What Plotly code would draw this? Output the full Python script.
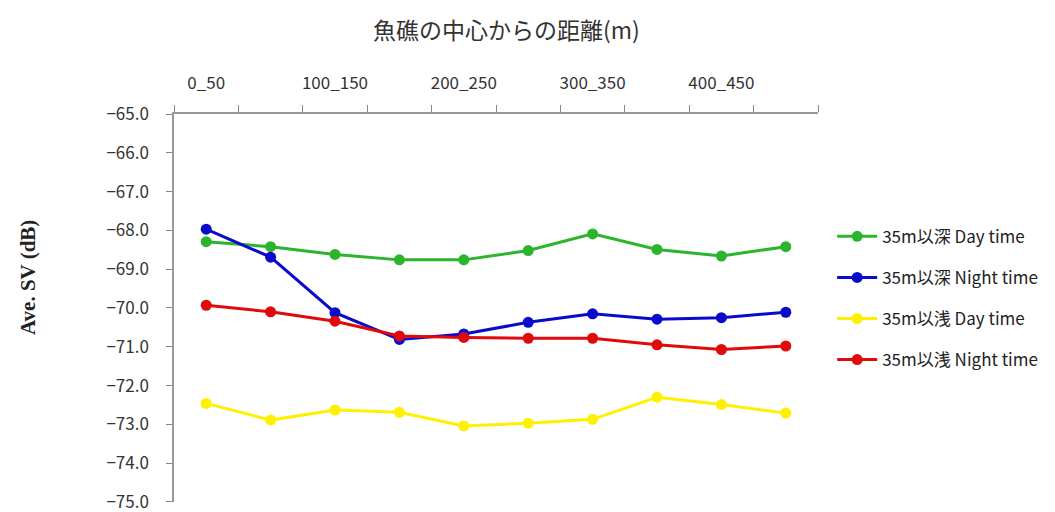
import plotly.graph_objects as go

categories = ["0_50", "50_100", "100_150", "150_200", "200_250",
              "250_300", "300_350", "350_400", "400_450", "450_500"]
tick_labels = ["0_50", "", "100_150", "", "200_250", "", "300_350", "", "400_450", ""]

deep_day = [-68.29, -68.42, -68.62, -68.76, -68.76, -68.52, -68.09, -68.49, -68.66, -68.42]
deep_night = [-67.97, -68.69, -70.12, -70.81, -70.67, -70.37, -70.15, -70.29, -70.25, -70.11]
shallow_day = [-72.46, -72.89, -72.63, -72.69, -73.04, -72.97, -72.87, -72.30, -72.49, -72.71]
shallow_night = [-69.93, -70.10, -70.34, -70.72, -70.76, -70.78, -70.78, -70.95, -71.07, -70.98]

series_names = ["35m以深 Day time", "35m以深 Night time", "35m以浅 Day time", "35m以浅 Night time"]
series_values = [deep_day, deep_night, shallow_day, shallow_night]
colors = ["#2DB42D", "#0A0ACD", "#FFF000", "#E00A0A"]

fig = go.Figure()
for i, (name, vals, col) in enumerate(zip(series_names, series_values, colors)):
    fig.add_trace(go.Scatter(
        x=categories, y=vals, name=name, mode="lines+markers",
        line=dict(color=col, width=3),
        marker=dict(color=col, size=11),
        legendgroup=f"g{i}",
    ))

fig.update_layout(
    width=1055, height=512,
    margin=dict(l=174, r=237, t=114, b=10, autoexpand=False),
    paper_bgcolor="white", plot_bgcolor="white",
    font=dict(family="Noto Sans CJK JP", color="#333333"),
    title=dict(text="魚礁の中心からの距離(m)", x=0.48, xanchor="center", y=0.94, yanchor="middle",
               font=dict(size=23, family="Noto Sans CJK JP", color="#333333")),
    showlegend=True,
    legend=dict(x=1.022, xanchor="left", y=0.73, yanchor="top",
                font=dict(size=17, family="Noto Sans CJK JP", color="#222222"),
                itemwidth=40,
                tracegroupgap=16, bgcolor="rgba(0,0,0,0)"),
    annotations=[dict(text="<b>Ave. SV (dB)</b>", textangle=-90,
                      xref="paper", yref="paper",
                      x=-146 / 644, y=(502 - 278) / 388,
                      xanchor="center", yanchor="middle", showarrow=False,
                      font=dict(size=21, family="Liberation Serif", color="#222222"))],
)

fig.update_xaxes(
    type="category", side="top", range=[-0.5, 9.5],
    tickmode="array", tickvals=categories, ticktext=tick_labels,
    tickson="boundaries", ticks="outside", ticklen=7, tickcolor="#888888",
    tickangle=0, ticklabelstandoff=16, automargin=False,
    showline=True, linecolor="#999999", linewidth=1.5,
    showgrid=False, zeroline=False,
    tickfont=dict(size=17, color="#333333"),
)
fig.update_yaxes(
    range=[-75.001, -65], dtick=1, tick0=-75, tickformat=".1f",
    ticks="outside", ticklen=6, tickcolor="#888888",
    ticklabeloverflow="allow", automargin=False, ticklabelstandoff=14,
    showline=True, linecolor="#999999", linewidth=1.5,
    showgrid=False, zeroline=False,
    tickfont=dict(size=17, color="#333333"),
)

fig.write_html("out.html")
